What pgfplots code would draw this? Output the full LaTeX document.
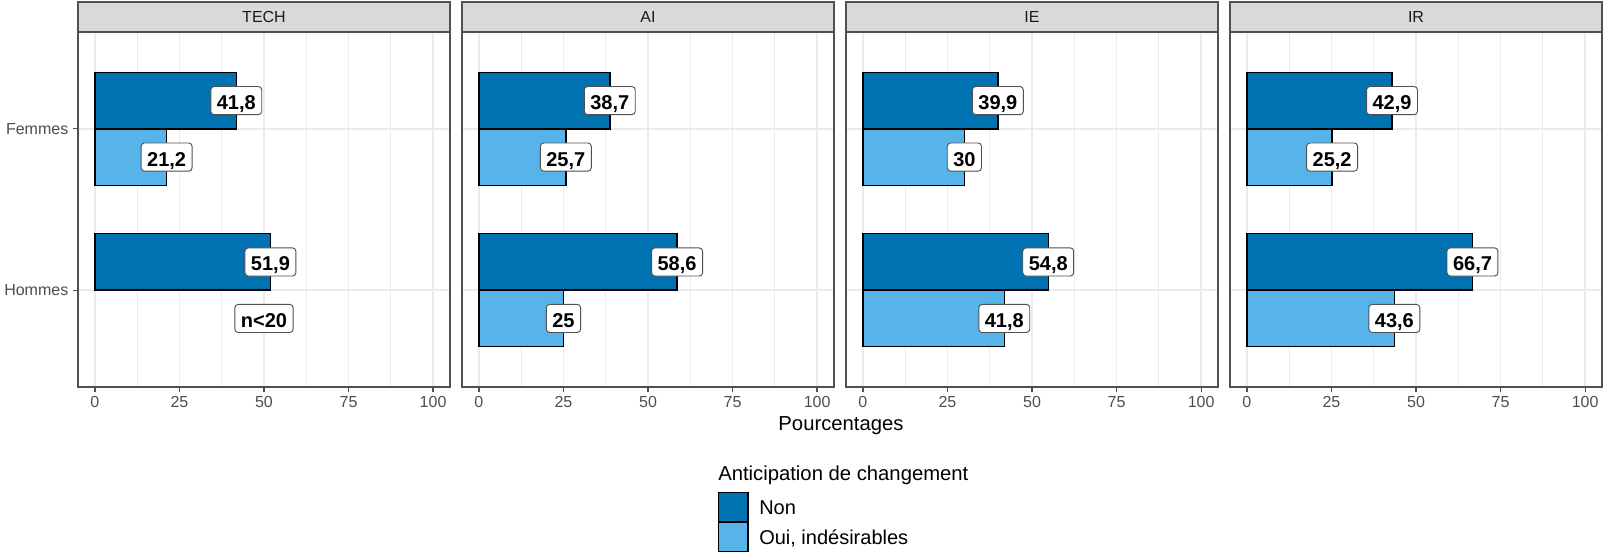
\documentclass[border=0pt]{standalone}
\usepackage{pgfplots}
\pgfplotsset{compat=1.18}
\usetikzlibrary{calc}
\usepackage{fontspec}
\setmainfont{Liberation Sans}
\definecolor{nonc}{HTML}{0072B2}
\definecolor{ouic}{HTML}{56B4E9}
\definecolor{g92}{HTML}{EBEBEB}
\definecolor{g85}{HTML}{D9D9D9}
\definecolor{g20}{HTML}{505050}
\definecolor{g30}{HTML}{4D4D4D}
\definecolor{g10}{HTML}{1A1A1A}

\pgfplotsset{
 facet/.style={
  scale only axis, width=279pt, height=266.25pt,
  anchor=north west,
  xmin=-5, xmax=105, ymin=0.4, ymax=2.6, y dir=reverse,
  xtick={0,25,50,75,100}, minor xtick={12.5,37.5,62.5,87.5},
  ytick={1,2},
  xtick pos=bottom, ytick pos=left,
  xmajorgrids, xminorgrids, ymajorgrids,
  major grid style={draw=g92, line width=1.4pt},
  minor grid style={draw=g92, line width=0.7pt},
  axis line style={draw=g20, line width=0.9pt},
  tick align=outside, major tick length=3.75pt, minor tick length=0pt,
  tick style={draw=g20, line width=0.9pt},
  tick label style={font=\fontsize{12}{14}\selectfont, text=g30},
  /pgf/number format/assume math mode=true,
  clip=false,
 },
 nonbar/.style={xbar, bar width=0.35, bar shift=0pt, fill=nonc, draw=black, line width=1.1pt,
  nodes near coords, point meta=explicit symbolic, lbl},
 ouibar/.style={xbar, bar width=0.35, bar shift=0pt, fill=ouic, draw=black, line width=1.1pt,
  nodes near coords, point meta=explicit symbolic, lbl},
 lbl/.style={every node near coord/.style={anchor=center, fill=white, draw=g20,
  rounded corners=2.5pt, line width=0.7pt, font=\bfseries\fontsize{15}{17}\selectfont,
  text=black, inner xsep=4.5pt, inner ysep=3pt, text height=14.3pt, text depth=0.8pt}},
 noy/.style={yticklabels={}, ytick style={draw=none}},
}

\newcommand{\strip}[2]{%
  \draw[fill=g85, draw=g20, line width=0.9pt] (#1.north west) rectangle ([yshift=22.5pt]#1.north east);
  \node[font=\fontsize{12}{14}\selectfont, text=g10] at ([yshift=11.25pt]$(#1.north west)!0.5!(#1.north east)$) {#2};
}

\begin{document}
\begin{tikzpicture}
\useasboundingbox (0,0) rectangle (1202.25pt,-417pt);

% TECH
\begin{axis}[facet, name=a1, at={(58.5pt,-24pt)}, yticklabels={Femmes,Hommes}]
\addplot[nonbar] coordinates {(41.8,0.825) [41,8] (51.9,1.825) [51,9]};
\addplot[ouibar] coordinates {(21.2,1.175) [21,2]};
\addplot[draw=none, mark=none, nodes near coords, point meta=explicit symbolic, lbl] coordinates {(50,2.175) [n<20]};
\end{axis}

% AI
\begin{axis}[facet, noy, name=a2, at={(346.5pt,-24pt)}]
\addplot[nonbar] coordinates {(38.7,0.825) [38,7] (58.6,1.825) [58,6]};
\addplot[ouibar] coordinates {(25.7,1.175) [25,7] (25,2.175) [25]};
\end{axis}

% IE
\begin{axis}[facet, noy, name=a3, at={(634.5pt,-24pt)}]
\addplot[nonbar] coordinates {(39.9,0.825) [39,9] (54.8,1.825) [54,8]};
\addplot[ouibar] coordinates {(30,1.175) [30] (41.8,2.175) [41,8]};
\end{axis}

% IR
\begin{axis}[facet, noy, name=a4, at={(922.5pt,-24pt)}]
\addplot[nonbar] coordinates {(42.9,0.825) [42,9] (66.7,1.825) [66,7]};
\addplot[ouibar] coordinates {(25.2,1.175) [25,2] (43.6,2.175) [43,6]};
\end{axis}

\strip{a1}{TECH}
\strip{a2}{AI}
\strip{a3}{IE}
\strip{a4}{IR}

\node[anchor=base, font=\fontsize{15.2}{17}\selectfont] at (630.75pt,-322.5pt) {Pourcentages};

% legend
\node[anchor=base west, font=\fontsize{15.2}{17}\selectfont, inner sep=0pt] at (538.5pt,-360pt) {Anticipation de changement};
\draw[fill=nonc, draw=black, line width=0.9pt] (539pt,-369.5pt) rectangle (561pt,-391pt);
\draw[fill=ouic, draw=black, line width=0.9pt] (539pt,-392pt) rectangle (561pt,-413.5pt);
\node[anchor=base west, font=\fontsize{15}{17}\selectfont, inner sep=0pt] at (569.25pt,-385.6pt) {Non};
\node[anchor=base west, font=\fontsize{15}{17}\selectfont, inner sep=0pt] at (569.25pt,-408.1pt) {Oui, indésirables};
\end{tikzpicture}
\end{document}
